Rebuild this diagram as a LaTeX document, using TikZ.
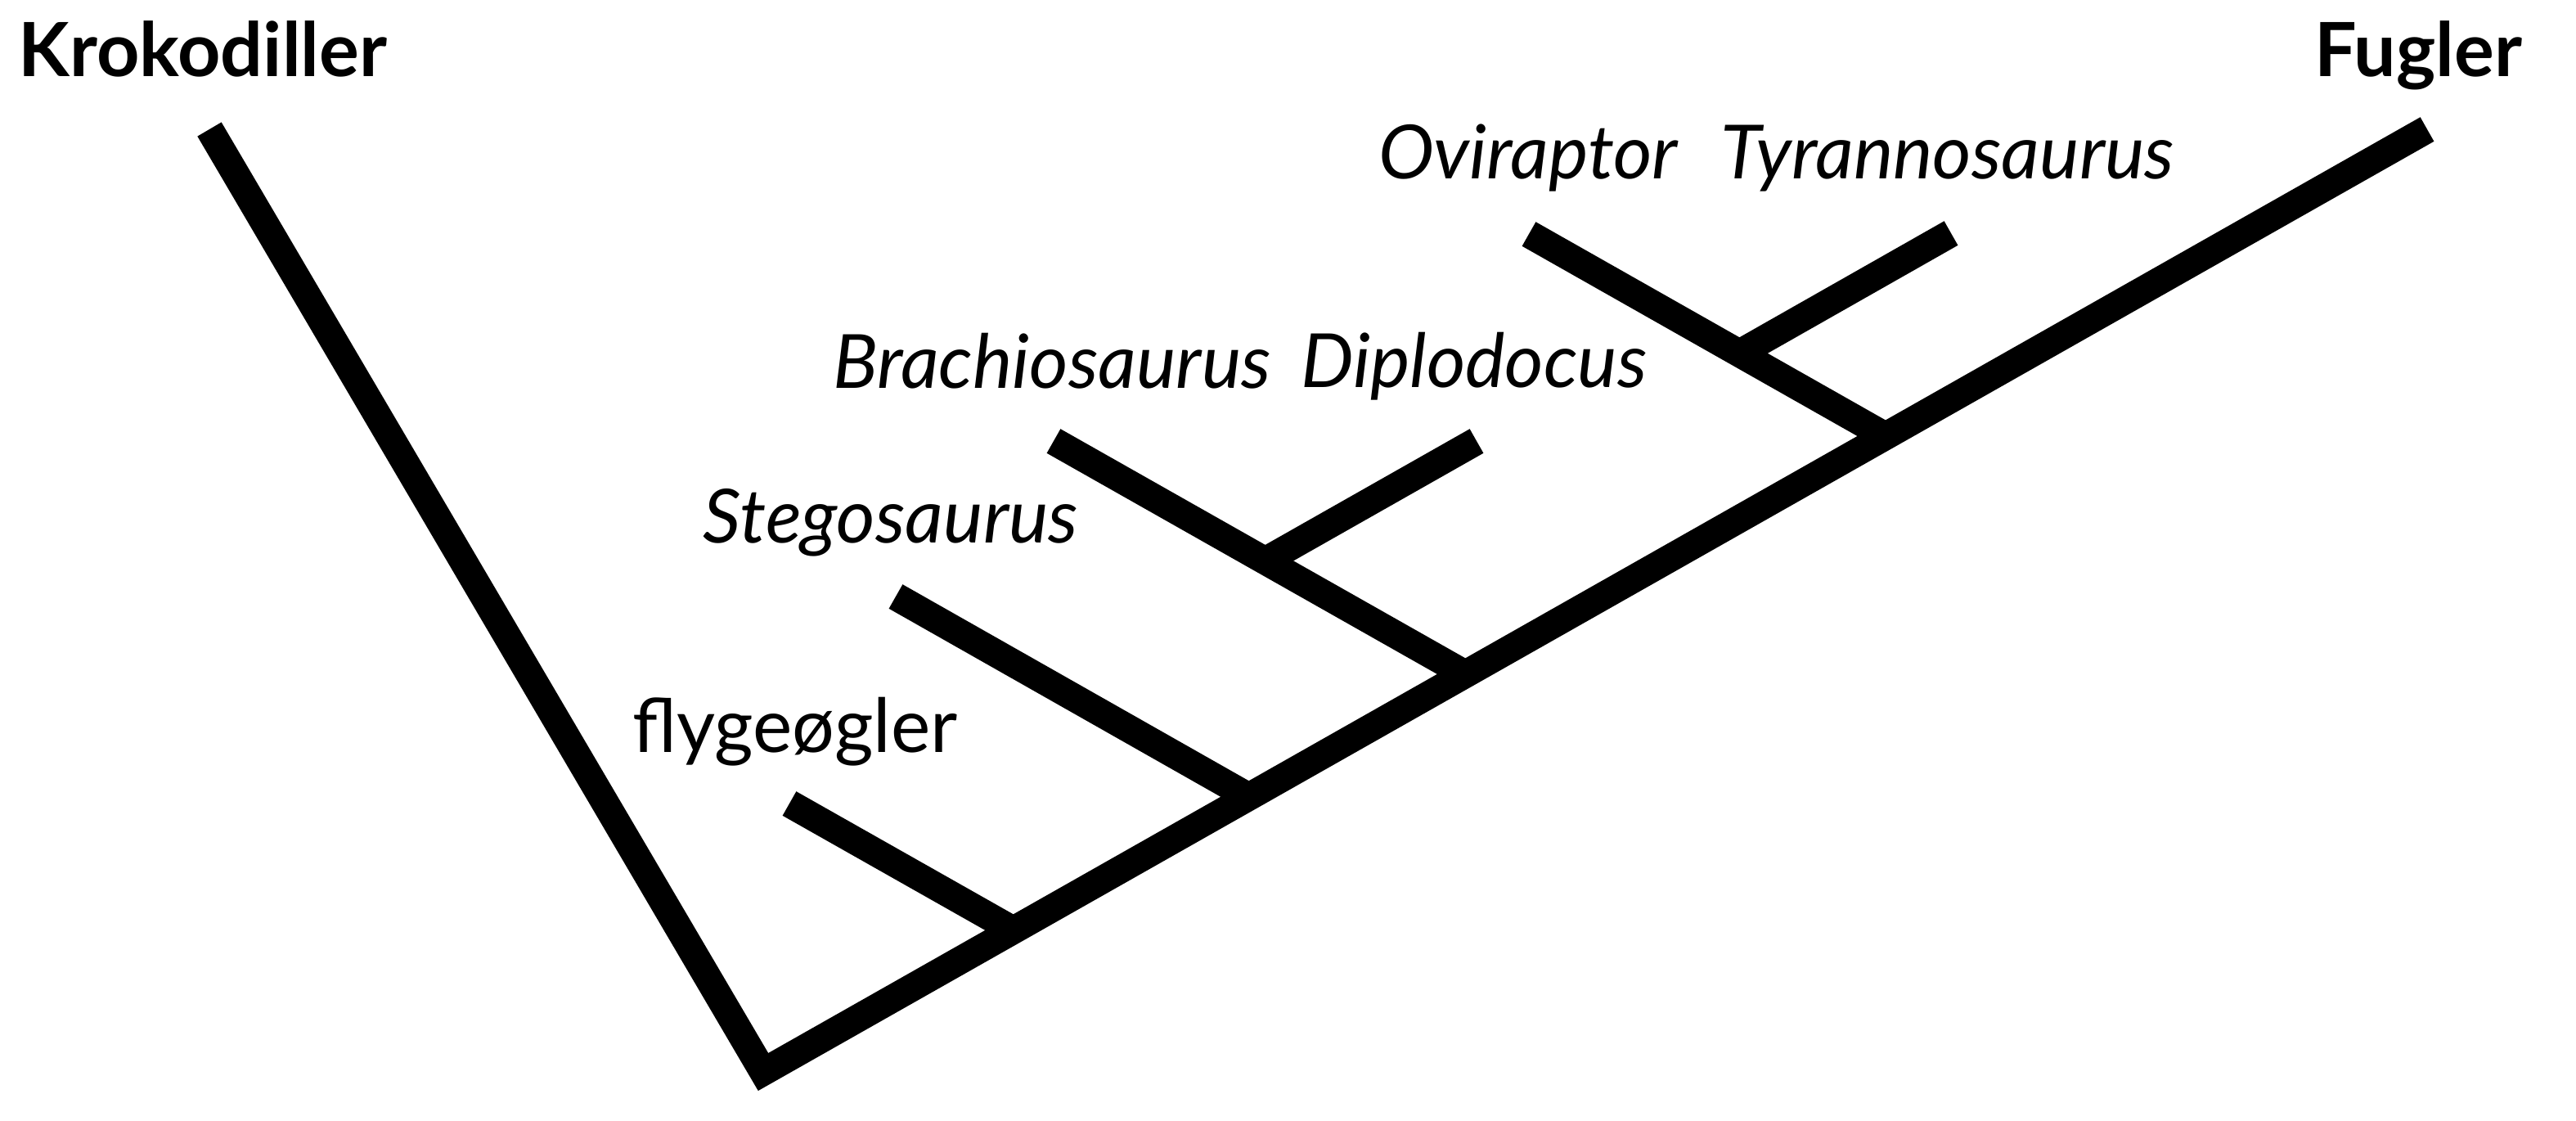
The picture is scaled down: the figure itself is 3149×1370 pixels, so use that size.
\documentclass[tikz,border=0pt]{standalone}
\usepackage{fontspec}
\setmainfont{Lato}
\begin{document}
\begin{tikzpicture}
    [x = .1mm, y = -.1mm, line width = 3.4mm,
     every node/.style = {anchor = base, inner sep = 0pt, font = \fontsize{26}{30}\selectfont\itshape}]
    \useasboundingbox (0,0) rectangle (3149,1370);
    % tips and forks
    \coordinate (root) at (933,1310);
    \coordinate (kro) at (256,158);
    \coordinate (fug) at (2967,158);
    \coordinate (fly) at (965,982);
    \coordinate (ste) at (1095,729);
    \coordinate (bra) at (1288,539);
    \coordinate (dip) at (1805,539);
    \coordinate (ovi) at (1869,286);
    \coordinate (tyr) at (2385,285);
    \coordinate (j1) at (1239,1137);
    \coordinate (j2) at (1527,974);
    \coordinate (j3) at (1791.5,824);
    \coordinate (j4) at (1546.7,685.4);
    \coordinate (j5) at (2305,533);
    \coordinate (j6) at (2126.4,431.8);
    % names
    \node[font = \fontsize{26}{30}\selectfont\bfseries] (tkro) at (248,94) {Krokodiller};
    \node[anchor = base east, font = \fontsize{26}{30}\selectfont\bfseries] (tfug) at (3100,94) {Fugler};
    \node[font = \fontsize{26}{30}\selectfont] (tfly) at (972,919) {flygeøgler};
    \node (tste) at (1089,663) {Stegosaurus};
    \node (tbra) at (1286,474) {Brachiosaurus};
    \node (tdip) at (1802,473) {Diplodocus};
    \node (tovi) at (1868,218) {Oviraptor};
    \node (ttyr) at (2381,218) {Tyrannosaurus};
    \draw[line join = miter] (kro) -- (root) -- (fug);
    \foreach \from/ \to in {fly/j1,ste/j2,bra/j3,dip/j4,ovi/j5,tyr/j6}
      \draw (\from) -- (\to);
  \end{tikzpicture}
\end{document}
